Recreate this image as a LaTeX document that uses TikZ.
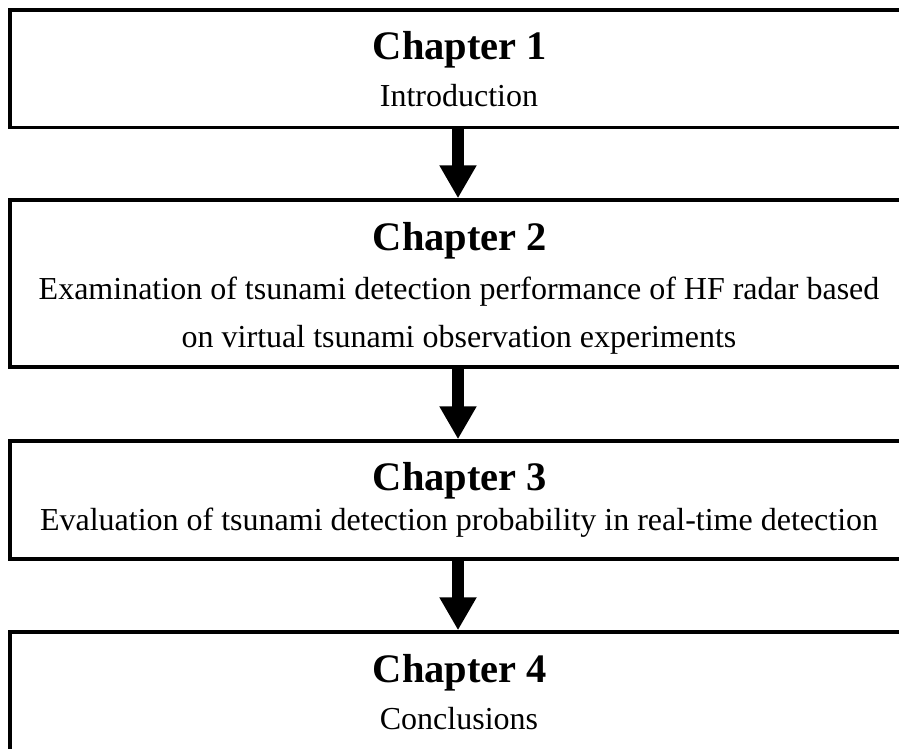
\documentclass[tikz,border=0pt]{standalone}
\usepackage{fontspec}
\setmainfont{Liberation Serif}
\usetikzlibrary{arrows.meta}
\begin{document}
\begin{tikzpicture}[x=1pt,y=-1pt,
  chapbox/.style={draw=black,line width=3.5pt,fill=none,minimum width=900pt,inner sep=0pt},
  chaptitle/.style={anchor=base,inner sep=0pt,font=\fontsize{40.5}{48}\selectfont\bfseries},
  chaptext/.style={anchor=base,inner sep=0pt,font=\fontsize{32}{38}\selectfont},
  bigarrow/.style={line width=12pt,-{Triangle[width=35pt,length=33pt]}}]
\useasboundingbox[fill=white] (0,0) rectangle (899,749);
% boxes
\node[chapbox,minimum height=117.5pt] (c1) at (460,68.75) {};
\node[chapbox,minimum height=167pt] (c2) at (460,283.5) {};
\node[chapbox,minimum height=118pt] (c3) at (460,500) {};
\node[chapbox,minimum height=120pt] (c4) at (460,692) {};
% texts
\node[chaptitle] (t1) at (460,60) {Chapter 1};
\node[chaptext] (s1) at (459,107) {Introduction};
\node[chaptitle] (t2) at (460,250) {Chapter 2};
\node[chaptext] (s2a) at (459,299) {Examination of tsunami detection performance of HF radar based};
\node[chaptext] (s2b) at (459,347) {on virtual tsunami observation experiments};
\node[chaptitle] (t3) at (460,490) {Chapter 3};
\node[chaptext] (s3) at (459,530.5) {Evaluation of tsunami detection probability in real-time detection};
\node[chaptitle] (t4) at (460,682) {Chapter 4};
\node[chaptext] (s4) at (459,729) {Conclusions};
% arrows
\draw[bigarrow] ([xshift=-2pt]c1.south) -- ([xshift=-2pt]c2.north);
\draw[bigarrow] ([xshift=-2pt]c2.south) -- ([xshift=-2pt]c3.north);
\draw[bigarrow] ([xshift=-2pt]c3.south) -- ([xshift=-2pt]c4.north);
\end{tikzpicture}
\end{document}
